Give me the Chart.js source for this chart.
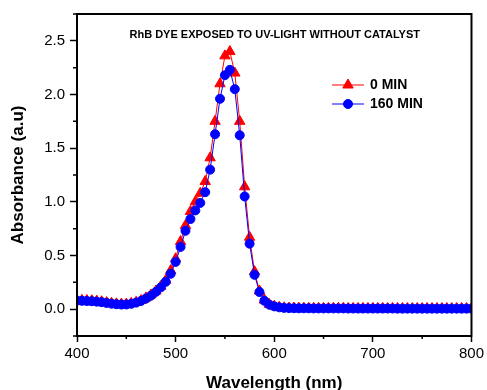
<!DOCTYPE html>
<html>
<head>
<meta charset="utf-8">
<script src="https://cdn.jsdelivr.net/npm/chart.js@4/dist/chart.umd.min.js"></script>
<style>
    body { margin: 0; background: #fff; }
    #box { width: 487px; height: 390px; }
</style>
</head>
<body>
<div id="box"><canvas id="myChart"></canvas></div>
<script>
const wavelength = [
    400, 405, 410, 415, 420, 425, 430, 435, 440, 445,
    450, 455, 460, 465, 470, 475, 480, 485, 490, 495,
    500, 505, 510, 515, 520, 525, 530, 535, 540, 545,
    550, 555, 560, 565, 570, 575, 580, 585, 590, 595,
    600, 605, 610, 615, 620, 625, 630, 635, 640, 645,
    650, 655, 660, 665, 670, 675, 680, 685, 690, 695,
    700, 705, 710, 715, 720, 725, 730, 735, 740, 745,
    750, 755, 760, 765, 770, 775, 780, 785, 790, 795,
    800
];

// 0 MIN
const abs0 = [
    0.083, 0.082, 0.081, 0.079, 0.075, 0.069, 0.062, 0.055, 0.050, 0.047,
    0.048, 0.054, 0.065, 0.081, 0.105, 0.133, 0.169, 0.213, 0.27, 0.36,
    0.47, 0.63, 0.78, 0.91, 1.00, 1.08, 1.19, 1.41, 1.75, 2.10,
    2.36, 2.40, 2.20, 1.75, 1.14, 0.67, 0.35, 0.17, 0.085, 0.045,
    0.028, 0.018, 0.013, 0.011, 0.010, 0.009, 0.009, 0.009, 0.008, 0.008,
    0.008, 0.008, 0.008, 0.008, 0.008, 0.007, 0.007, 0.007, 0.007, 0.007,
    0.007, 0.007, 0.007, 0.007, 0.007, 0.006, 0.006, 0.006, 0.006, 0.006,
    0.006, 0.006, 0.006, 0.006, 0.006, 0.006, 0.006, 0.006, 0.006, 0.006,
    0.006
];

// 160 MIN
const abs160 = [
    0.079, 0.078, 0.076, 0.074, 0.070, 0.065, 0.058, 0.051, 0.046, 0.043,
    0.044, 0.050, 0.061, 0.077, 0.099, 0.126, 0.161, 0.203, 0.255, 0.33,
    0.44, 0.58, 0.73, 0.84, 0.92, 0.99, 1.09, 1.30, 1.63, 1.96,
    2.18, 2.23, 2.05, 1.62, 1.05, 0.61, 0.32, 0.16, 0.078, 0.042,
    0.026, 0.017, 0.012, 0.010, 0.009, 0.008, 0.008, 0.008, 0.007, 0.007,
    0.007, 0.007, 0.007, 0.007, 0.007, 0.006, 0.006, 0.006, 0.006, 0.006,
    0.006, 0.006, 0.006, 0.006, 0.006, 0.005, 0.005, 0.005, 0.005, 0.005,
    0.005, 0.005, 0.005, 0.005, 0.005, 0.005, 0.005, 0.005, 0.005, 0.005,
    0.005
];

const seriesNames = ['0 MIN', '160 MIN'];
const chartTitle = 'RhB DYE EXPOSED TO UV-LIGHT WITHOUT CATALYST';
const xMinor = [450, 550, 650, 750];
const yMinor = [-0.25, 0.25, 0.75, 1.25, 1.75, 2.25, 2.75];

const FONT = '"Liberation Sans", Arial, sans-serif';

function toPoints(ys) {
    return wavelength.map((w, i) => ({x: w, y: ys[i]}));
}

function isMinorX(v) { return v % 100 !== 0; }
function isMinorY(v) { return Math.abs(Math.round(v * 2) - v * 2) > 1e-6; }

// frame, minor ticks, title and the legend inside the plot
const decor = {
    id: 'decor',
    afterDraw(chart) {
        const ctx = chart.ctx;
        const a = chart.chartArea;
        const xs = chart.scales.x;
        const ys = chart.scales.y;
        ctx.save();

        ctx.strokeStyle = '#000';
        ctx.lineWidth = 2;
        ctx.strokeRect(a.left, a.top, a.right - a.left, a.bottom - a.top);

        ctx.lineWidth = 1.5;
        ctx.beginPath();
        for (const v of xMinor) {
            const px = xs.getPixelForValue(v);
            ctx.moveTo(px, a.bottom);
            ctx.lineTo(px, a.bottom + 3);
        }
        for (const v of yMinor) {
            const py = ys.getPixelForValue(v);
            ctx.moveTo(a.left, py);
            ctx.lineTo(a.left - 4, py);
        }
        ctx.stroke();

        ctx.fillStyle = '#000';
        ctx.font = 'bold 11px ' + FONT;
        ctx.textAlign = 'center';
        ctx.textBaseline = 'middle';
        ctx.fillText(chartTitle, (a.left + a.right) / 2 + 0.5, a.top + 21);

        // legend
        const lx = 332, rowY = [85, 104];
        chart.data.datasets.forEach((ds, i) => {
            const y = rowY[i];
            ctx.strokeStyle = ds.borderColor;
            ctx.lineWidth = 1;
            ctx.beginPath();
            ctx.moveTo(lx, y);
            ctx.lineTo(lx + 32, y);
            ctx.stroke();
            ctx.fillStyle = ds.pointBackgroundColor;
            ctx.strokeStyle = ds.pointBorderColor;
            Chart.helpers.drawPoint(ctx, {
                pointStyle: ds.pointStyle,
                radius: ds.pointRadius,
                rotation: 0,
                borderWidth: 1
            }, lx + 16, y);
            ctx.fillStyle = '#000';
            ctx.font = 'bold 14px ' + FONT;
            ctx.textAlign = 'left';
            ctx.fillText(ds.label, lx + 38, y + 0.5);
        });

        ctx.restore();
    }
};

const ctx = document.getElementById('myChart');

let chart = new Chart(ctx, {
    type: 'scatter',
    data: {
        datasets: [
            {
                label: seriesNames[0],
                data: toPoints(abs0),
                showLine: true,
                borderColor: '#ff0000',
                borderWidth: 1,
                pointStyle: 'triangle',
                pointRadius: 6,
                pointBackgroundColor: '#ff0000',
                pointBorderColor: '#ff0000',
                pointBorderWidth: 1,
                order: 1
            },
            {
                label: seriesNames[1],
                data: toPoints(abs160),
                showLine: true,
                borderColor: '#0000ff',
                borderWidth: 1,
                pointStyle: 'circle',
                pointRadius: 4.5,
                pointBackgroundColor: '#0000ff',
                pointBorderColor: '#0000ff',
                pointBorderWidth: 1,
                order: 0
            }
        ]
    },
    options: {
        responsive: true,
        maintainAspectRatio: false,
        animation: false,
        layout: {
            padding: {left: 0, right: 14, top: 14, bottom: 0}
        },
        plugins: {
            legend: {display: false},
            title: {display: false},
            tooltip: {enabled: false}
        },
        scales: {
            x: {
                type: 'linear',
                min: 400,
                max: 800,
                afterFit: (s) => { s.height = 54; },
                ticks: {
                    stepSize: 50,
                    padding: 3,
                    color: '#000',
                    maxRotation: 0,
                    autoSkip: false,
                    font: {family: FONT, size: 15},
                    callback: (v) => isMinorX(v) ? '' : String(v)
                },
                grid: {
                    drawOnChartArea: false,
                    drawTicks: true,
                    tickLength: 6,
                    tickWidth: 1.5,
                    tickColor: (c) => (c.tick && isMinorX(c.tick.value)) ? 'rgba(0,0,0,0)' : '#000'
                },
                border: {display: true, color: '#000', width: 2},
                title: {
                    display: true,
                    text: 'Wavelength (nm)',
                    color: '#000',
                    font: {family: FONT, size: 17, weight: 'bold', lineHeight: 1},
                    padding: {top: 0, bottom: -1.5}
                }
            },
            y: {
                min: -0.25,
                max: 2.75,
                afterFit: (s) => { s.width = 77; },
                ticks: {
                    stepSize: 0.25,
                    padding: 5,
                    color: '#000',
                    autoSkip: false,
                    font: {family: FONT, size: 15},
                    callback: (v) => isMinorY(v) ? '' : v.toFixed(1)
                },
                grid: {
                    drawOnChartArea: false,
                    drawTicks: true,
                    tickLength: 7,
                    tickWidth: 1.5,
                    tickColor: (c) => (c.tick && isMinorY(c.tick.value)) ? 'rgba(0,0,0,0)' : '#000'
                },
                border: {display: true, color: '#000', width: 2},
                title: {
                    display: true,
                    text: 'Absorbance (a.u)',
                    color: '#000',
                    font: {family: FONT, size: 17, weight: 'bold', lineHeight: 1},
                    padding: {top: 9.5, bottom: 0}
                }
            }
        }
    },
    plugins: [decor]
});
</script>
</body>
</html>
